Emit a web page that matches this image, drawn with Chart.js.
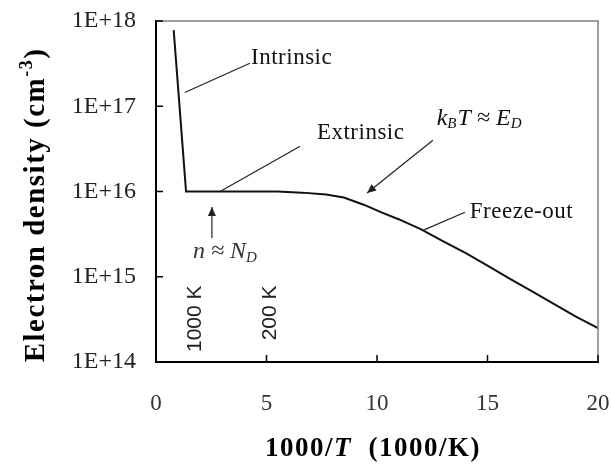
<!DOCTYPE html>
<html>
<head>
<meta charset="utf-8">
<script src="https://cdn.jsdelivr.net/npm/chart.js@4"></script>
<style>
  html, body { margin: 0; padding: 0; background: #fff; }
  canvas { display: block; }
</style>
</head>
<body>
<canvas id="chart" width="611" height="470"></canvas>
<script>
// 1000/T values (1000/K) and electron density (cm^-3)
const invTemp = [0.8, 1.36, 3, 5.5, 6.6, 7.7, 8.5, 9.4, 10.2, 11, 12, 13, 14, 15, 16, 17, 18, 19, 20];
const density = [7.8e17, 1e16, 1e16, 1e16, 9.7e15, 9.2e15, 8.5e15, 7.0e15, 5.7e15, 4.7e15, 3.6e15, 2.6e15, 1.9e15, 1.35e15, 9.5e14, 6.8e14, 4.8e14, 3.4e14, 2.5e14];
const yTickValues = [1e14, 1e15, 1e16, 1e17, 1e18];
const xTickValues = [0, 5, 10, 15, 20];

const SERIF = '"Liberation Serif", "Times New Roman", serif';
const SANS = '"Liberation Sans", Arial, sans-serif';

// leader lines / arrows in data coordinates
const leaders = [
  { from: [1.3, 1.45e17], to: [4.25, 3.2e17], arrow: false },
  { from: [2.9, 1e16], to: [6.52, 3.4e16], arrow: false },
  { from: [12.53, 4.0e16], to: [9.55, 9.6e15], arrow: true },
  { from: [12.08, 3.5e15], to: [13.98, 5.7e15], arrow: false },
  { from: [2.53, 2.85e15], to: [2.53, 6.6e15], arrow: true }
];

const tempLabels = [
  { text: '1000 K', x: 1.76 },
  { text: '200 K', x: 5.16 }
];

function px(chart, x, y) {
  return [chart.scales.x.getPixelForValue(x), chart.scales.y.getPixelForValue(y)];
}

const framePlugin = {
  id: 'frame',
  afterDraw(chart) {
    const { ctx, chartArea: a } = chart;
    ctx.save();
    // top / right border in grey
    ctx.strokeStyle = '#808080';
    ctx.lineWidth = 1.5;
    ctx.beginPath();
    ctx.moveTo(a.left, a.top);
    ctx.lineTo(a.right, a.top);
    ctx.lineTo(a.right, a.bottom);
    ctx.stroke();
    // inward ticks
    ctx.strokeStyle = '#000';
    ctx.lineWidth = 1.5;
    ctx.beginPath();
    yTickValues.forEach(v => {
      const y = chart.scales.y.getPixelForValue(v);
      ctx.moveTo(a.left, y);
      ctx.lineTo(a.left + 7, y);
    });
    xTickValues.forEach(v => {
      const x = chart.scales.x.getPixelForValue(v);
      ctx.moveTo(x, a.bottom);
      ctx.lineTo(x, a.bottom - 7);
    });
    ctx.stroke();
    ctx.restore();
  }
};

const annotatePlugin = {
  id: 'annotate',
  afterDraw(chart) {
    const { ctx, chartArea: a } = chart;
    ctx.save();
    ctx.strokeStyle = '#222';
    ctx.fillStyle = '#222';
    ctx.lineWidth = 1.2;
    leaders.forEach(l => {
      const [x1, y1] = px(chart, l.from[0], l.from[1]);
      const [x2, y2] = px(chart, l.to[0], l.to[1]);
      ctx.beginPath();
      ctx.moveTo(x1, y1);
      ctx.lineTo(x2, y2);
      ctx.stroke();
      if (l.arrow) {
        const ang = Math.atan2(y2 - y1, x2 - x1);
        const len = 9, w = 4;
        ctx.beginPath();
        ctx.moveTo(x2, y2);
        ctx.lineTo(x2 - len * Math.cos(ang) + w * Math.sin(ang), y2 - len * Math.sin(ang) - w * Math.cos(ang));
        ctx.lineTo(x2 - len * Math.cos(ang) - w * Math.sin(ang), y2 - len * Math.sin(ang) + w * Math.cos(ang));
        ctx.closePath();
        ctx.fill();
      }
    });

    // plain labels
    ctx.fillStyle = '#111';
    ctx.textBaseline = 'middle';
    ctx.textAlign = 'left';
    ctx.letterSpacing = '0.5px';
    ctx.font = '23px ' + SERIF;
    let p = px(chart, 4.3, 3.7e17);
    ctx.fillText('Intrinsic', p[0], p[1]);
    p = px(chart, 7.28, 4.9e16);
    ctx.fillText('Extrinsic', p[0], p[1]);
    p = px(chart, 14.2, 5.7e15);
    ctx.fillText('Freeze-out', p[0], p[1]);

    // k_B T ≈ E_D
    p = px(chart, 12.7, 7.2e16);
    let x = p[0], y = p[1];
    ctx.letterSpacing = '0px';
    ctx.font = 'italic 24px ' + SERIF;
    ctx.fillText('k', x, y); x += ctx.measureText('k').width;
    ctx.font = 'italic 15px ' + SERIF;
    ctx.fillText('B', x, y + 6); x += ctx.measureText('B').width + 1;
    ctx.font = 'italic 24px ' + SERIF;
    ctx.fillText('T ≈ E', x, y); x += ctx.measureText('T ≈ E').width;
    ctx.font = 'italic 15px ' + SERIF;
    ctx.fillText('D', x, y + 6);

    // n ≈ N_D
    p = px(chart, 1.67, 1.95e15);
    x = p[0]; y = p[1];
    ctx.fillStyle = '#333';
    ctx.font = 'italic 24px ' + SERIF;
    ctx.fillText('n ≈ N', x, y); x += ctx.measureText('n ≈ N').width;
    ctx.font = 'italic 15px ' + SERIF;
    ctx.fillText('D', x, y + 6);

    // rotated temperature markers
    ctx.fillStyle = '#222';
    ctx.font = '21px ' + SANS;
    ctx.textAlign = 'right';
    tempLabels.forEach(t => {
      const [tx, ty] = px(chart, t.x, 7.9e14);
      ctx.save();
      ctx.translate(tx, ty);
      ctx.rotate(-Math.PI / 2);
      ctx.fillText(t.text, 0, 0);
      ctx.restore();
    });

    // axis titles
    ctx.fillStyle = '#000';
    ctx.textAlign = 'left';
    ctx.textBaseline = 'alphabetic';
    // x title: 1000/T (1000/K)
    const parts = [
      ['bold 27px ' + SERIF, '1000/'],
      ['bold italic 27px ' + SERIF, 'T'],
      ['bold 27px ' + SERIF, '  (1000/K)']
    ];
    ctx.letterSpacing = '1.5px';
    let total = 0;
    parts.forEach(pt => { ctx.font = pt[0]; total += ctx.measureText(pt[1]).width; });
    x = (a.left + a.right) / 2 - total / 2 - 4;
    parts.forEach(pt => { ctx.font = pt[0]; ctx.fillText(pt[1], x, 456); x += ctx.measureText(pt[1]).width; });

    // y title: Electron density (cm^-3)
    ctx.save();
    ctx.translate(44, 205);
    ctx.rotate(-Math.PI / 2);
    ctx.letterSpacing = '1.5px';
    const main = 'Electron density (cm';
    ctx.font = 'bold 29px ' + SERIF;
    const w1 = ctx.measureText(main).width;
    ctx.font = 'bold 18px ' + SERIF;
    const w2 = ctx.measureText('-3').width;
    ctx.font = 'bold 29px ' + SERIF;
    const w3 = ctx.measureText(')').width;
    let sx = -(w1 + w2 + w3) / 2;
    ctx.fillText(main, sx, 0); sx += w1;
    ctx.font = 'bold 18px ' + SERIF;
    ctx.fillText('-3', sx, -12); sx += w2;
    ctx.font = 'bold 29px ' + SERIF;
    ctx.fillText(')', sx, 0);
    ctx.restore();

    ctx.restore();
  }
};

new Chart(document.getElementById('chart'), {
  type: 'line',
  data: {
    datasets: [{
      data: invTemp.map((v, i) => ({ x: v, y: density[i] })),
      borderColor: '#111',
      borderWidth: 2,
      pointRadius: 0,
      tension: 0,
      fill: false
    }]
  },
  options: {
    responsive: false,
    animation: false,
    layout: { padding: { top: 21, right: 13, left: 0, bottom: 0 } },
    plugins: {
      legend: { display: false },
      tooltip: { enabled: false }
    },
    scales: {
      x: {
        type: 'linear',
        min: 0,
        max: 20,
        afterBuildTicks: s => { s.ticks = xTickValues.map(v => ({ value: v })); },
        ticks: { font: { family: SERIF, size: 23 }, color: '#333', padding: 28, maxRotation: 0 },
        grid: { display: false, drawTicks: false },
        border: { color: '#000', width: 2 },
        afterFit: s => { s.height = 108; s.paddingLeft = 0; s.paddingRight = 0; }
      },
      y: {
        type: 'logarithmic',
        min: 1e14,
        max: 1e18,
        afterBuildTicks: s => { s.ticks = yTickValues.map(v => ({ value: v })); },
        ticks: {
          callback: v => '1E+' + Math.round(Math.log10(v)),
          font: { family: SERIF, size: 24 },
          color: '#222',
          padding: 20
        },
        grid: { display: false, drawTicks: false },
        border: { color: '#000', width: 2 },
        afterFit: s => { s.width = 156; s.paddingTop = 0; s.paddingBottom = 0; }
      }
    }
  },
  plugins: [framePlugin, annotatePlugin]
});
</script>
</body>
</html>
